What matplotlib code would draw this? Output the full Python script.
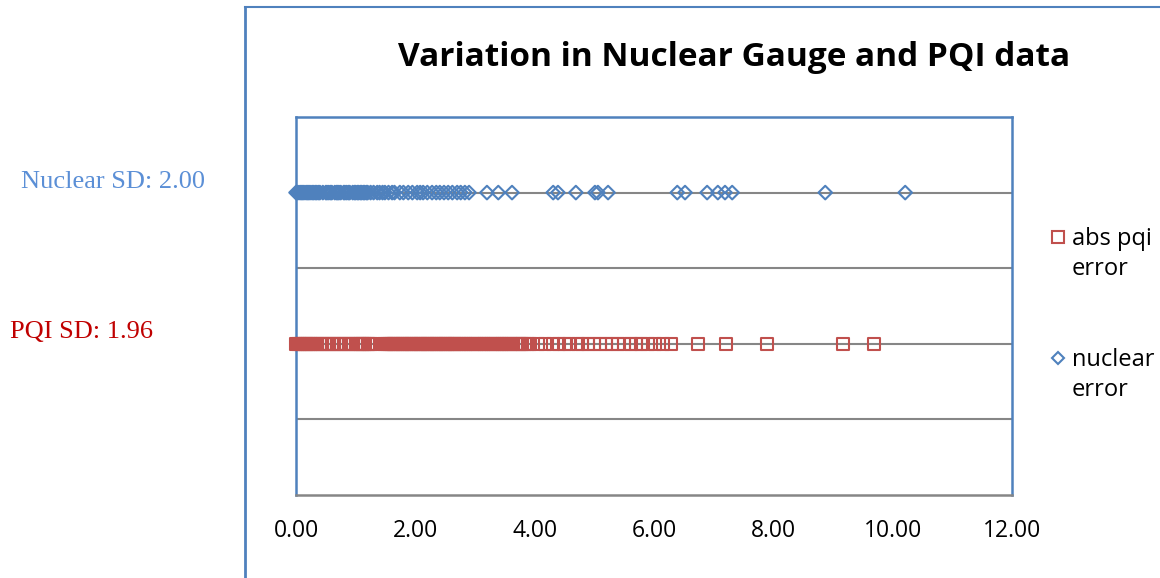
import matplotlib.pyplot as plt
from matplotlib.lines import Line2D

# values
nuclear_err = [0.00, 0.02, 0.05, 0.08, 0.10, 0.12, 0.15, 0.18, 0.20, 0.22, 0.25, 0.28,
               0.30, 0.33, 0.35, 0.38, 0.40, 0.45, 0.50, 0.52, 0.55, 0.58, 0.60, 0.65,
               0.68, 0.70, 0.72, 0.75, 0.80, 0.82, 0.85, 0.88, 0.90, 0.95, 0.98, 1.00,
               1.03, 1.05, 1.08, 1.10, 1.13, 1.15, 1.18, 1.20, 1.25, 1.30, 1.36, 1.40,
               1.45, 1.49, 1.55, 1.61, 1.65, 1.74, 1.80, 1.88, 1.95, 2.03, 2.08, 2.13,
               2.20, 2.28, 2.35, 2.41, 2.48, 2.55, 2.62, 2.70, 2.76, 2.83, 2.90, 3.20,
               3.39, 3.62, 4.31, 4.39, 4.69, 5.01, 5.06, 5.23, 6.39, 6.52, 6.89, 7.07,
               7.19, 7.31, 8.87, 10.21]
pqi_err = [0.00, 0.03, 0.06, 0.09, 0.12, 0.15, 0.18, 0.21, 0.25, 0.28, 0.32, 0.35,
           0.40, 0.44, 0.48, 0.52, 0.56, 0.60, 0.64, 0.68, 0.72, 0.76, 0.80, 0.84,
           0.88, 0.92, 0.96, 1.00, 1.04, 1.07, 1.10, 1.13, 1.16, 1.20, 1.23, 1.26,
           1.30, 1.47, 1.50, 1.53, 1.56, 1.59, 1.62, 1.65, 1.68, 1.71, 1.74, 1.77,
           1.80, 1.83, 1.86, 1.89, 1.92, 1.95, 1.98, 2.01, 2.04, 2.07, 2.10, 2.13,
           2.16, 2.19, 2.22, 2.25, 2.28, 2.31, 2.34, 2.37, 2.40, 2.43, 2.46, 2.49,
           2.52, 2.55, 2.58, 2.61, 2.64, 2.67, 2.70, 2.74, 2.78, 2.82, 2.85, 2.88,
           2.92, 2.96, 3.00, 3.04, 3.08, 3.12, 3.15, 3.18, 3.22, 3.26, 3.30, 3.34,
           3.38, 3.42, 3.45, 3.48, 3.52, 3.56, 3.60, 3.64, 3.68, 3.72, 3.75, 3.79,
           3.83, 3.88, 3.92, 4.05, 4.18, 4.30, 4.40, 4.50, 4.58, 4.72, 4.80, 4.90,
           5.00, 5.10, 5.20, 5.30, 5.40, 5.50, 5.62, 5.70, 5.78, 5.90, 6.02, 6.15,
           6.28, 6.74, 7.21, 7.89, 9.17, 9.69]
nuclear_level = 2.0
pqi_level = 1.0
xticks = [0, 2, 4, 6, 8, 10, 12]
nuclear_sd = 2.00
pqi_sd = 1.96

blue = '#4F81BD'
red = '#C0504D'

fig = plt.figure(figsize=(11.6, 5.78), dpi=100)
ax = fig.add_axes([0.2552, 0.1436, 0.6172, 0.654])

ax.scatter(pqi_err, [pqi_level] * len(pqi_err), marker='s', s=75,
           facecolors='none', edgecolors=red, linewidths=1.5, zorder=3, clip_on=False)
ax.scatter(nuclear_err, [nuclear_level] * len(nuclear_err), marker='D', s=48,
           facecolors='none', edgecolors=blue, linewidths=1.5, zorder=3, clip_on=False)

ax.set_xlim(0, 12)
ax.set_ylim(0, 2.5)
ax.set_xticks(xticks)
ax.set_xticklabels([f'{v:.2f}' for v in xticks], fontsize=16.5, family='Open Sans')
ax.set_yticks([0.5, 1.0, 1.5, 2.0])
ax.set_yticklabels([])
ax.tick_params(axis='both', length=0, pad=17)
ax.grid(axis='y', color='#868686', linewidth=1.5)
ax.set_axisbelow(True)
for s in ['left', 'top', 'right']:
    ax.spines[s].set_color(blue)
    ax.spines[s].set_linewidth(1.8)
ax.spines['bottom'].set_color('#868686')
ax.spines['bottom'].set_linewidth(1.8)

fig.text(0.633, 1 - 57 / 578, 'Variation in Nuclear Gauge and PQI data', ha='center',
         va='center', fontsize=24, fontweight='bold', family='Open Sans')

# legend, markers aligned with the first line of each label
leg_items = [('abs pqi\nerror', 's', red, 237), ('nuclear\nerror', 'D', blue, 358)]
for label, mk, col, ypx in leg_items:
    yf = 1 - ypx / 578
    fig.add_artist(Line2D([1058 / 1160], [yf], marker=mk, markersize=8 if mk == 's' else 6.5,
                          markerfacecolor='none', markeredgecolor=col,
                          markeredgewidth=1.5, linestyle='none'))
    fig.text(1072 / 1160, yf + 10 / 578, label, fontsize=17, family='Open Sans',
             va='top', ha='left', linespacing=1.33)

fig.text(0.0185, 1 - 182 / 578, f'Nuclear SD: {nuclear_sd:.2f}', color='#5B8FD6',
         fontsize=19, family='Liberation Serif', va='center')
fig.text(0.009, 1 - 332 / 578, f'PQI SD: {pqi_sd:.2f}', color='#C00000',
         fontsize=19, family='Liberation Serif', va='center')

# outer chart frame
fig.add_artist(Line2D([245 / 1160, 245 / 1160], [0, 1 - 7 / 578], color=blue, lw=2))
fig.add_artist(Line2D([245 / 1160, 1], [1 - 7 / 578, 1 - 7 / 578], color=blue, lw=1.5))

fig.savefig('out.png', dpi=100)
